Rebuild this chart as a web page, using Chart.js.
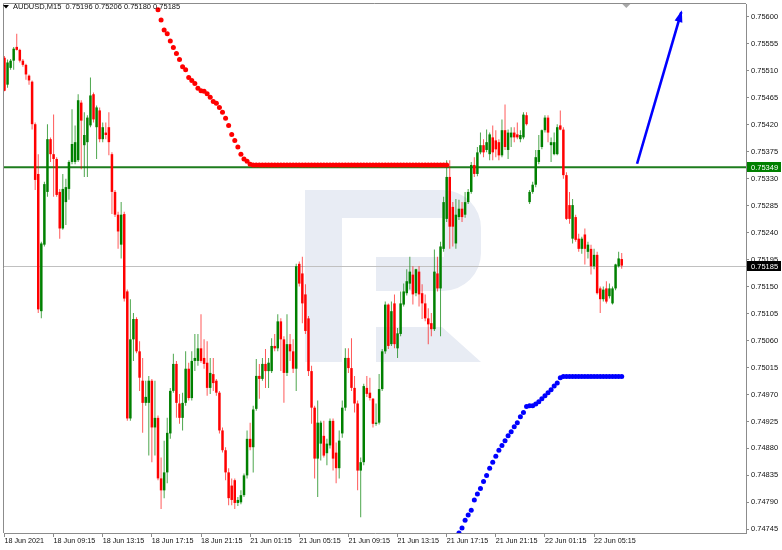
<!DOCTYPE html>
<html>
<head>
<meta charset="utf-8">
<script src="https://cdn.jsdelivr.net/npm/chart.js@4.4.1/dist/chart.umd.min.js"></script>
<style>
  html, body { margin: 0; padding: 0; background: #fff; }
</style>
</head>
<body>
<canvas id="chart" width="782" height="550"></canvas>
<script>
const symbol = 'AUDUSD,M15';

const opens = [
  0.75532, 0.75487, 0.75515, 0.75527, 0.75550, 0.75545, 0.75527, 0.75520, 0.75502, 0.75492,
  0.75421, 0.75338, 0.75109, 0.75220, 0.75308, 0.75396, 0.75371, 0.75363, 0.75308, 0.75247,
  0.75291, 0.75313, 0.75358, 0.75358, 0.75361, 0.75457, 0.75386, 0.75391, 0.75419, 0.75471,
  0.75416, 0.75444, 0.75396, 0.75407, 0.75416, 0.75371, 0.75308, 0.75270, 0.75220, 0.75271,
  0.75142, 0.74930, 0.75062, 0.75096, 0.75042, 0.74993, 0.74956, 0.74956, 0.74993, 0.74915,
  0.74931, 0.74830, 0.74810, 0.74840, 0.74905, 0.74976, 0.75021, 0.74955, 0.74931, 0.74956,
  0.75013, 0.74964, 0.75026, 0.75026, 0.75047, 0.75031, 0.75023, 0.74981, 0.75004, 0.74993,
  0.74973, 0.74910, 0.74877, 0.74840, 0.74818, 0.74827, 0.74789, 0.74790, 0.74802, 0.74835,
  0.74896, 0.74882, 0.74946, 0.75001, 0.74996, 0.75021, 0.75009, 0.75009, 0.75051, 0.75047,
  0.75092, 0.75062, 0.75006, 0.75054, 0.75042, 0.75013, 0.75188, 0.75172, 0.75137, 0.75097,
  0.75009, 0.74948, 0.74863, 0.74888, 0.74901, 0.74872, 0.74885, 0.74926, 0.74873, 0.74847,
  0.74905, 0.74948, 0.75031, 0.75014, 0.74981, 0.74955, 0.74843, 0.74857, 0.74981, 0.74973,
  0.74963, 0.74921, 0.74923, 0.74979, 0.75042, 0.75120, 0.75054, 0.75122, 0.75047, 0.75071,
  0.75120, 0.75139, 0.75155, 0.75170, 0.75139, 0.75175, 0.75139, 0.75122, 0.75097, 0.75089,
  0.75079, 0.75172, 0.75147, 0.75213, 0.75263, 0.75333, 0.75283, 0.75222, 0.75266, 0.75280,
  0.75270, 0.75291, 0.75308, 0.75353, 0.75338, 0.75374, 0.75386, 0.75378, 0.75371, 0.75399,
  0.75394, 0.75391, 0.75369, 0.75411, 0.75378, 0.75399, 0.75407, 0.75404, 0.75396, 0.75399,
  0.75436, 0.75291, 0.75308, 0.75320, 0.75358, 0.75383, 0.75411, 0.75432, 0.75386, 0.75371,
  0.75371, 0.75419, 0.75412, 0.75336, 0.75286, 0.75230, 0.75266, 0.75230, 0.75213, 0.75237,
  0.75208, 0.75213, 0.75184, 0.75203, 0.75147, 0.75129, 0.75147, 0.75134, 0.75122, 0.75147,
  0.75184, 0.75196
];
const highs = [
  0.75535, 0.75529, 0.75530, 0.75550, 0.75572, 0.75547, 0.75530, 0.75522, 0.75504, 0.75494,
  0.75424, 0.75371, 0.75225, 0.75325, 0.75421, 0.75399, 0.75437, 0.75366, 0.75313, 0.75338,
  0.75330, 0.75361, 0.75446, 0.75419, 0.75471, 0.75461, 0.75441, 0.75436, 0.75499, 0.75474,
  0.75452, 0.75449, 0.75424, 0.75424, 0.75441, 0.75374, 0.75311, 0.75275, 0.75291, 0.75275,
  0.75145, 0.75129, 0.75106, 0.75099, 0.75059, 0.75031, 0.74993, 0.75001, 0.74996, 0.74993,
  0.74935, 0.74865, 0.74893, 0.74931, 0.74981, 0.75038, 0.75026, 0.74971, 0.74973, 0.75042,
  0.75023, 0.75042, 0.75071, 0.75071, 0.75104, 0.75062, 0.75059, 0.75031, 0.75031, 0.74996,
  0.74976, 0.74915, 0.74882, 0.74847, 0.74830, 0.74830, 0.74799, 0.74810, 0.74838, 0.74910,
  0.74923, 0.74951, 0.75029, 0.75021, 0.75031, 0.75046, 0.75031, 0.75064, 0.75071, 0.75104,
  0.75097, 0.75067, 0.75104, 0.75071, 0.75062, 0.75188, 0.75192, 0.75200, 0.75154, 0.75101,
  0.75018, 0.74951, 0.74960, 0.74926, 0.74926, 0.74896, 0.74930, 0.74930, 0.74890, 0.74910,
  0.74960, 0.75047, 0.75047, 0.75064, 0.75001, 0.74960, 0.74865, 0.74988, 0.75001, 0.74998,
  0.74964, 0.74955, 0.75004, 0.75046, 0.75125, 0.75122, 0.75125, 0.75137, 0.75081, 0.75142,
  0.75155, 0.75179, 0.75200, 0.75184, 0.75180, 0.75184, 0.75154, 0.75137, 0.75114, 0.75106,
  0.75212, 0.75200, 0.75225, 0.75300, 0.75361, 0.75361, 0.75291, 0.75296, 0.75295, 0.75291,
  0.75308, 0.75313, 0.75358, 0.75366, 0.75383, 0.75407, 0.75396, 0.75412, 0.75407, 0.75419,
  0.75411, 0.75396, 0.75429, 0.75454, 0.75412, 0.75416, 0.75416, 0.75424, 0.75411, 0.75441,
  0.75441, 0.75311, 0.75325, 0.75378, 0.75403, 0.75412, 0.75436, 0.75436, 0.75399, 0.75407,
  0.75421, 0.75444, 0.75416, 0.75341, 0.75308, 0.75296, 0.75270, 0.75238, 0.75233, 0.75247,
  0.75225, 0.75220, 0.75213, 0.75208, 0.75150, 0.75150, 0.75159, 0.75155, 0.75150, 0.75188,
  0.75208, 0.75206
];
const lows = [
  0.75476, 0.75482, 0.75512, 0.75512, 0.75544, 0.75524, 0.75517, 0.75495, 0.75487, 0.75412,
  0.75311, 0.75106, 0.75097, 0.75217, 0.75300, 0.75358, 0.75300, 0.75300, 0.75230, 0.75245,
  0.75253, 0.75295, 0.75354, 0.75354, 0.75358, 0.75346, 0.75333, 0.75333, 0.75416, 0.75424,
  0.75363, 0.75391, 0.75391, 0.75396, 0.75369, 0.75271, 0.75266, 0.75213, 0.75197, 0.75125,
  0.74926, 0.74926, 0.75026, 0.75039, 0.74976, 0.74906, 0.74951, 0.74868, 0.74857, 0.74868,
  0.74827, 0.74779, 0.74797, 0.74822, 0.74896, 0.74973, 0.74931, 0.74921, 0.74910, 0.74951,
  0.74960, 0.74960, 0.75009, 0.75018, 0.75023, 0.75013, 0.74968, 0.74971, 0.74976, 0.74968,
  0.74905, 0.74873, 0.74827, 0.74785, 0.74785, 0.74779, 0.74784, 0.74787, 0.74799, 0.74830,
  0.74877, 0.74840, 0.74943, 0.74963, 0.74993, 0.74981, 0.74981, 0.75006, 0.75042, 0.75042,
  0.75009, 0.74956, 0.75001, 0.75026, 0.75006, 0.74976, 0.75150, 0.75089, 0.75071, 0.75001,
  0.74921, 0.74830, 0.74799, 0.74860, 0.74865, 0.74852, 0.74880, 0.74843, 0.74822, 0.74830,
  0.74898, 0.74943, 0.75006, 0.74976, 0.74940, 0.74810, 0.74765, 0.74852, 0.74966, 0.74960,
  0.74915, 0.74918, 0.74920, 0.74976, 0.75038, 0.75046, 0.75051, 0.75047, 0.75031, 0.75067,
  0.75117, 0.75135, 0.75145, 0.75120, 0.75134, 0.75117, 0.75096, 0.75092, 0.75054, 0.75067,
  0.75076, 0.75142, 0.75067, 0.75208, 0.75258, 0.75213, 0.75217, 0.75213, 0.75261, 0.75258,
  0.75265, 0.75288, 0.75305, 0.75333, 0.75334, 0.75371, 0.75366, 0.75374, 0.75361, 0.75361,
  0.75366, 0.75361, 0.75366, 0.75378, 0.75363, 0.75383, 0.75391, 0.75396, 0.75391, 0.75396,
  0.75419, 0.75288, 0.75305, 0.75316, 0.75354, 0.75379, 0.75407, 0.75391, 0.75358, 0.75369,
  0.75369, 0.75411, 0.75330, 0.75261, 0.75255, 0.75222, 0.75225, 0.75208, 0.75205, 0.75187,
  0.75197, 0.75170, 0.75179, 0.75137, 0.75106, 0.75125, 0.75122, 0.75130, 0.75120, 0.75144,
  0.75182, 0.75180
];
const closes = [
  0.75477, 0.75524, 0.75527, 0.75547, 0.75545, 0.75527, 0.75520, 0.75504, 0.75494, 0.75421,
  0.75328, 0.75112, 0.75222, 0.75321, 0.75396, 0.75371, 0.75363, 0.75303, 0.75247, 0.75313,
  0.75316, 0.75358, 0.75388, 0.75391, 0.75461, 0.75427, 0.75403, 0.75432, 0.75469, 0.75429,
  0.75449, 0.75396, 0.75416, 0.75403, 0.75391, 0.75308, 0.75270, 0.75242, 0.75270, 0.75130,
  0.74930, 0.75062, 0.75096, 0.75042, 0.74998, 0.74956, 0.74966, 0.74993, 0.74915, 0.74931,
  0.74830, 0.74810, 0.74840, 0.74906, 0.74976, 0.75021, 0.74956, 0.74931, 0.74956, 0.75013,
  0.74964, 0.75026, 0.75031, 0.75047, 0.75026, 0.75021, 0.74981, 0.75006, 0.74989, 0.74973,
  0.74910, 0.74877, 0.74840, 0.74797, 0.74794, 0.74789, 0.74794, 0.74802, 0.74835, 0.74896,
  0.74882, 0.74945, 0.75001, 0.74996, 0.75021, 0.75009, 0.75023, 0.75051, 0.75047, 0.75092,
  0.75062, 0.75006, 0.75054, 0.75042, 0.75013, 0.75184, 0.75155, 0.75122, 0.75076, 0.75009,
  0.74948, 0.74863, 0.74923, 0.74923, 0.74868, 0.74888, 0.74926, 0.74863, 0.74847, 0.74893,
  0.74948, 0.75031, 0.75014, 0.74981, 0.74955, 0.74843, 0.74857, 0.74984, 0.74971, 0.74964,
  0.74921, 0.74923, 0.74979, 0.75042, 0.75120, 0.75051, 0.75109, 0.75054, 0.75072, 0.75122,
  0.75142, 0.75159, 0.75175, 0.75137, 0.75179, 0.75137, 0.75122, 0.75097, 0.75087, 0.75079,
  0.75175, 0.75147, 0.75217, 0.75291, 0.75333, 0.75250, 0.75250, 0.75270, 0.75280, 0.75266,
  0.75291, 0.75308, 0.75353, 0.75338, 0.75374, 0.75386, 0.75374, 0.75391, 0.75404, 0.75374,
  0.75379, 0.75369, 0.75411, 0.75383, 0.75407, 0.75407, 0.75399, 0.75399, 0.75403, 0.75437,
  0.75421, 0.75308, 0.75320, 0.75366, 0.75378, 0.75411, 0.75432, 0.75407, 0.75391, 0.75391,
  0.75416, 0.75412, 0.75336, 0.75263, 0.75263, 0.75286, 0.75228, 0.75213, 0.75230, 0.75213,
  0.75220, 0.75184, 0.75203, 0.75139, 0.75129, 0.75145, 0.75125, 0.75147, 0.75147, 0.75187,
  0.75197, 0.75185
];

// time axis: one label every 16 bars, starting at bar 0
const timeLabels = [
  '18 Jun 2021', '18 Jun 09:15', '18 Jun 13:15', '18 Jun 17:15', '18 Jun 21:15',
  '21 Jun 01:15', '21 Jun 05:15', '21 Jun 09:15', '21 Jun 13:15', '21 Jun 17:15',
  '21 Jun 21:15', '22 Jun 01:15', '22 Jun 05:15'
];
const labelStep = 16;
const priceTicks = [
  0.74745, 0.74790, 0.74835, 0.74880, 0.74925, 0.74970, 0.75015, 0.75060, 0.75105, 0.75150,
  0.75195, 0.75240, 0.75285, 0.75330, 0.75375, 0.75420, 0.75465, 0.75510, 0.75555, 0.75600
];

// red dotted object, one dot per bar from bar 50
const redDotStart = 50;
const redDots = [
  0.75612, 0.75595, 0.75578, 0.75572, 0.75560, 0.75549, 0.75539, 0.75529, 0.75517, 0.75512,
  0.75499, 0.75494, 0.75489, 0.75481, 0.75477, 0.75476, 0.75472, 0.75466, 0.75459, 0.75456,
  0.75449, 0.75441, 0.75431, 0.75419, 0.75404, 0.75394, 0.75383, 0.75371, 0.75363, 0.75359,
  0.75354, 0.75353, 0.75353, 0.75353, 0.75353, 0.75353, 0.75353, 0.75353, 0.75353, 0.75353,
  0.75353, 0.75353, 0.75353, 0.75353, 0.75353, 0.75353, 0.75353, 0.75353, 0.75353, 0.75353,
  0.75353, 0.75353, 0.75353, 0.75353, 0.75353, 0.75353, 0.75353, 0.75353, 0.75353, 0.75353,
  0.75353, 0.75353, 0.75353, 0.75353, 0.75353, 0.75353, 0.75353, 0.75353, 0.75353, 0.75353,
  0.75353, 0.75353, 0.75353, 0.75353, 0.75353, 0.75353, 0.75353, 0.75353, 0.75353, 0.75353,
  0.75353, 0.75353, 0.75353, 0.75353, 0.75353, 0.75353, 0.75353, 0.75353, 0.75353, 0.75353,
  0.75353, 0.75353, 0.75353, 0.75353, 0.75353
];
// blue dotted object, from bar 148
const blueDotStart = 148;
const blueDots = [
  0.74739, 0.74747, 0.74760, 0.74769, 0.74777, 0.74794, 0.74804, 0.74813, 0.74825, 0.74835,
  0.74847, 0.74857, 0.74867, 0.74877, 0.74885, 0.74893, 0.74901, 0.74908, 0.74916, 0.74923,
  0.74933, 0.74940, 0.74950, 0.74951, 0.74951, 0.74954, 0.74958, 0.74963, 0.74968, 0.74973,
  0.74978, 0.74984, 0.74989, 0.74998, 0.75000, 0.75000, 0.75000, 0.75000, 0.75000, 0.75000,
  0.75000, 0.75000, 0.75000, 0.75000, 0.75000, 0.75000, 0.75000, 0.75000, 0.75000, 0.75000,
  0.75000, 0.75000, 0.75000, 0.75000
];

const levelLine = 0.75349;
const bidLine = 0.75185;
const arrowFrom = [206, 0.75355];
const arrowTo = [220.4, 0.75608];
const shiftMarkAt = 202.5;

const GREEN = '#008000';
const RED = '#ff0000';
const AXIS = '#8c8c8c';
const TEXT = '#101010';
const FONT = "'Liberation Sans', Arial, sans-serif";

const bars = opens.map((o, i) => i);
const isUp = i => closes[i] >= opens[i];

const wickData = bars.map(i => ({ x: i, y: [lows[i], highs[i]] }));
const bodyData = bars.map(i => ({ x: i, y: [Math.min(opens[i], closes[i]), Math.max(opens[i], closes[i])] }));
const redDotData = redDots.map((v, k) => ({ x: redDotStart + k, y: v }));
const blueDotData = blueDots.map((v, k) => ({ x: blueDotStart + k, y: v }));
const arrowData = [{ x: arrowFrom[0], y: arrowFrom[1] }, { x: arrowTo[0], y: arrowTo[1] }];

const overlay = {
  id: 'overlay',
  beforeDatasetsDraw(chart) {
    const { ctx, chartArea: a, scales: { y } } = chart;
    ctx.save();
    // watermark logo
    ctx.fillStyle = '#e8ecf4';
    const L = a.left;
    ctx.fillRect(L + 301, 190, 37, 172);
    ctx.beginPath();
    ctx.moveTo(L + 337, 190);
    ctx.lineTo(L + 440, 190);
    ctx.arcTo(L + 477, 190, L + 477, 235, 38);
    ctx.lineTo(L + 477, 252);
    ctx.arcTo(L + 477, 291, L + 440, 291, 38);
    ctx.lineTo(L + 372, 291);
    ctx.lineTo(L + 372, 257);
    ctx.lineTo(L + 440, 257);
    ctx.lineTo(L + 440, 218);
    ctx.lineTo(L + 337, 218);
    ctx.closePath();
    ctx.fill();
    ctx.beginPath();
    ctx.moveTo(L + 372, 327);
    ctx.lineTo(L + 438, 327);
    ctx.lineTo(L + 477, 362);
    ctx.lineTo(L + 372, 362);
    ctx.closePath();
    ctx.fill();

    // horizontal lines
    const yb = Math.round(y.getPixelForValue(bidLine)) + 0.5;
    ctx.strokeStyle = '#c0c0c0';
    ctx.lineWidth = 1;
    ctx.beginPath(); ctx.moveTo(a.left, yb); ctx.lineTo(a.right, yb); ctx.stroke();
    const yl = y.getPixelForValue(levelLine);
    ctx.strokeStyle = '#1e7d1e';
    ctx.lineWidth = 2;
    ctx.beginPath(); ctx.moveTo(a.left, yl); ctx.lineTo(a.right, yl); ctx.stroke();
    ctx.restore();
  },
  afterDraw(chart) {
    const { ctx, chartArea: a, scales: { x, y } } = chart;
    ctx.save();
    // frame left/top
    ctx.strokeStyle = AXIS;
    ctx.lineWidth = 1;
    ctx.beginPath();
    ctx.moveTo(a.left - 0.5, a.bottom); ctx.lineTo(a.left - 0.5, a.top - 0.5); ctx.lineTo(a.right, a.top - 0.5);
    ctx.stroke();

    // arrow head
    const x0 = x.getPixelForValue(arrowFrom[0]), y0 = y.getPixelForValue(arrowFrom[1]);
    const x1 = x.getPixelForValue(arrowTo[0]), y1 = y.getPixelForValue(arrowTo[1]);
    const len = Math.hypot(x1 - x0, y1 - y0), ux = (x1 - x0) / len, uy = (y1 - y0) / len;
    ctx.fillStyle = '#0000ff';
    ctx.beginPath();
    ctx.moveTo(x1 + ux * 2, y1 + uy * 2);
    ctx.lineTo(x1 - ux * 10 - uy * 4, y1 - uy * 10 + ux * 4);
    ctx.lineTo(x1 - ux * 10 + uy * 4, y1 - uy * 10 - ux * 4);
    ctx.closePath();
    ctx.fill();

    // chart shift marker
    const xs = x.getPixelForValue(shiftMarkAt);
    ctx.fillStyle = '#a8a8a8';
    ctx.beginPath();
    ctx.moveTo(xs - 4, a.top); ctx.lineTo(xs + 4, a.top); ctx.lineTo(xs, a.top + 4);
    ctx.closePath(); ctx.fill();

    // title
    const last = opens.length - 1;
    ctx.fillStyle = '#000';
    ctx.beginPath();
    ctx.moveTo(3, 5); ctx.lineTo(9, 5); ctx.lineTo(6, 8.5); ctx.closePath(); ctx.fill();
    ctx.font = `7.5px ${FONT}`;
    ctx.fillStyle = TEXT;
    ctx.textBaseline = 'middle';
    ctx.textAlign = 'left';
    const title = `${symbol}  ${opens[last].toFixed(5)} ${highs[last].toFixed(5)} ${lows[last].toFixed(5)} ${closes[last].toFixed(5)}`;
    ctx.fillText(title, 13, 7);

    // price tags on the axis
    const tag = (val, bg) => {
      const py = y.getPixelForValue(val);
      ctx.fillStyle = bg;
      ctx.fillRect(a.right + 1, Math.round(py) - 5, 34, 10);
      ctx.fillStyle = '#fff';
      ctx.fillText(val.toFixed(5), a.right + 5, Math.round(py) + 0.5);
    };
    tag(levelLine, GREEN);
    tag(bidLine, '#000');
    ctx.restore();
  }
};

new Chart(document.getElementById('chart'), {
  type: 'bar',
  data: {
    datasets: [
      {
        label: 'dots red', type: 'line', data: redDotData, showLine: false,
        pointRadius: 2.5, pointBorderWidth: 0, pointBackgroundColor: RED, order: 0
      },
      {
        label: 'dots blue', type: 'line', data: blueDotData, showLine: false,
        pointRadius: 2.5, pointBorderWidth: 0, pointBackgroundColor: '#0000ff', order: 0
      },
      {
        label: 'arrow', type: 'line', data: arrowData, borderColor: '#0000ff', borderWidth: 2.6,
        pointRadius: 0, order: 0
      },
      {
        label: 'body', data: bodyData, barThickness: 2.5, grouped: false, inflateAmount: 0,
        minBarLength: 1, borderWidth: 0, order: 1,
        backgroundColor: c => isUp(c.dataIndex) ? GREEN : RED
      },
      {
        label: 'wick', data: wickData, barThickness: 1, grouped: false, inflateAmount: 0,
        borderWidth: 0, order: 2,
        backgroundColor: c => isUp(c.dataIndex) ? 'rgba(0,128,0,0.7)' : 'rgba(255,0,0,0.65)'
      }
    ]
  },
  options: {
    responsive: false,
    animation: false,
    layout: { padding: { left: 1, top: 1, right: 0, bottom: 0 } },
    plugins: { legend: { display: false }, tooltip: { enabled: false } },
    scales: {
      x: {
        type: 'linear', position: 'bottom', min: -0.15, max: 241.47, offset: false,
        afterBuildTicks: s => { s.ticks = timeLabels.map((_, k) => ({ value: k * labelStep })); },
        afterFit: s => { s.height = 17; s.paddingLeft = 0; s.paddingRight = 0; },
        grid: { drawOnChartArea: false, tickLength: 4, color: AXIS, offset: false },
        border: { color: AXIS },
        ticks: {
          callback: v => timeLabels[v / labelStep] || '',
          align: 'start', maxRotation: 0, autoSkip: false, padding: 0,
          color: TEXT, font: { family: FONT, size: 7.2 }
        }
      },
      y: {
        type: 'linear', position: 'right', min: 0.7473886, max: 0.7562157,
        afterBuildTicks: s => { s.ticks = priceTicks.map(v => ({ value: v })); },
        afterFit: s => { s.width = 36; s.paddingTop = 0; s.paddingBottom = 0; },
        grid: { drawOnChartArea: false, tickLength: 3, color: AXIS },
        border: { color: AXIS },
        ticks: {
          callback: v => v.toFixed(5), padding: 2,
          color: TEXT, font: { family: FONT, size: 7.5 }
        }
      }
    }
  },
  plugins: [overlay]
});
</script>
</body>
</html>
